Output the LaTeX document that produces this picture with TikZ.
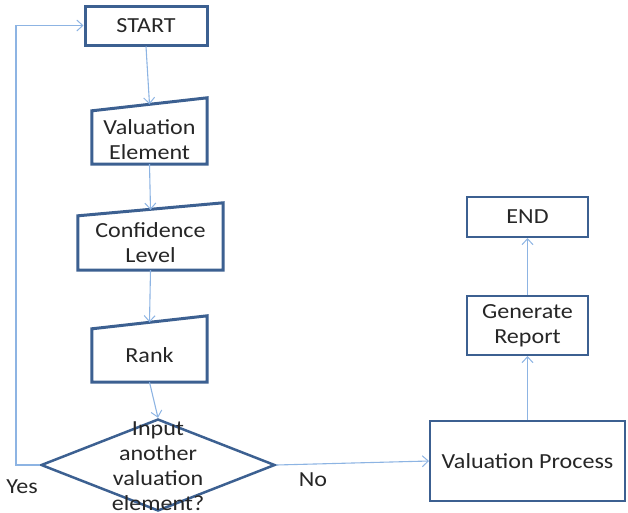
\documentclass[tikz,border=0pt]{standalone}
\usepackage{fontspec}
\setmainfont{Carlito}[FakeStretch=1.12]
\usetikzlibrary{arrows.meta,shapes.geometric}
\definecolor{boxblue}{RGB}{60,96,145}
\definecolor{arrblue}{RGB}{141,180,227}
\begin{document}
\begin{tikzpicture}[x=1pt,y=-1pt,
  every node/.style={font=\fontsize{21.5}{25}\selectfont, align=center, text=black!85},
  thickbox/.style={draw=boxblue, line width=3pt, rectangle, inner sep=0pt},
  thinbox/.style={draw=boxblue, line width=2pt, rectangle, inner sep=0pt},
  manual/.style={draw=none, rectangle, inner sep=0pt},
  manualline/.style={draw=boxblue, line width=3pt, line join=miter},
  decision/.style={draw=boxblue, line width=2.5pt, diamond, inner sep=0pt, aspect=2.54},
  flow/.style={draw=arrblue, line width=1.1pt, -{Straight Barb[length=6pt,width=11pt,line width=1pt]}},
  lbl/.style={font=\fontsize{21.5}{25}\selectfont}
]
\useasboundingbox (0,0) rectangle (628,512);
\clip (0,0) rectangle (628,512);

\node[thickbox, minimum width=122pt, minimum height=39pt] (start) at (146,25.5) {START};
\node[manual, minimum width=115pt, minimum height=53pt] (ve) at (149.5,137.5) {};
\node at (149.5,140) {Valuation\\Element};
\node[manual, minimum width=145pt, minimum height=54pt] (cl) at (150.5,243) {Confidence\\Level};
\node[manual, minimum width=115pt, minimum height=53pt] (rank) at (149.5,355.5) {Rank};
\foreach \n in {ve,cl,rank}{
  \draw[manualline] (\n.south west) -- (\n.south east) -- ([yshift=13pt]\n.north east) -- (\n.north west) -- cycle;
}
\node[decision, minimum width=234pt, minimum height=92pt] (d) at (158,465) {};
\node at (158,466) {Input\\another\\valuation\\element?};

\node[thinbox, minimum width=195pt, minimum height=80pt] (vp) at (527.5,461) {Valuation Process};
\node[thinbox, minimum width=121pt, minimum height=59pt] (gr) at (527.5,325.5) {Generate\\Report};
\node[thinbox, minimum width=121pt, minimum height=40pt] (end) at (527.5,217) {END};

\coordinate (lp) at (16,465);

\draw[flow] (start.south) -- ([yshift=6.5pt]ve.north);
\draw[flow] (ve.south) -- ([yshift=6pt]cl.north);
\draw[flow] (cl.south) -- ([yshift=6.5pt]rank.north);
\draw[flow] (rank.south) -- (d.north);
\draw[flow] (d.west) -- (lp) |- (start.west);
\draw[flow] (d.east) -- (vp.west);
\draw[flow] (vp.north) -- (gr.south);
\draw[flow] (gr.north) -- (end.south);

\node[lbl] (yes) at (22,487) {Yes};
\node[lbl] (no) at (313,480) {No};
\end{tikzpicture}
\end{document}
